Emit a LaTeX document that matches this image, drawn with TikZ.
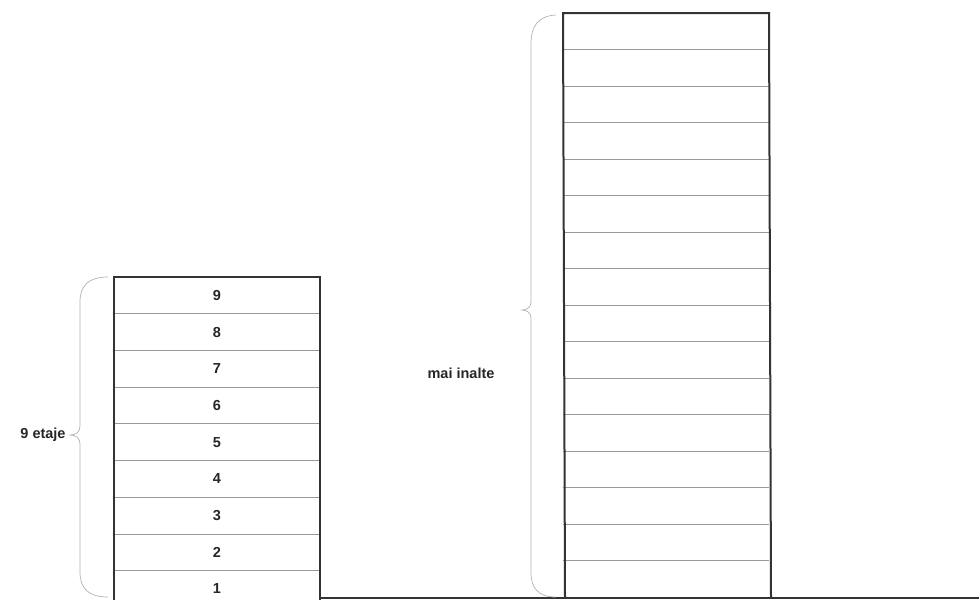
\documentclass[tikz,border=0pt]{standalone}
\usepackage{fontspec}
\setmainfont{Liberation Sans}

\begin{document}
\begin{tikzpicture}[x=1pt, y=-1pt, every node/.style={font=\bfseries\fontsize{14.5}{16}\selectfont, text=black!85},
	wall/.style={black!80, line width=2pt},
	floorline/.style={black!40, line width=0.7pt},
	bracket/.style={black!30, line width=0.7pt}]
	\useasboundingbox (0,0) rectangle (979,600);
	% low block: 9 floors
	\coordinate (lowNW) at (114,277);
	\coordinate (lowNE) at (320,277);
	\foreach \i in {1,...,8}
		\draw[floorline] (114,{277+\i*36.7}) -- (320,{277+\i*36.7});
	\foreach \i in {1,...,9}
		\node (f\i) at (217,{277+(9.5-\i)*36.7}) {\i};
	\draw[wall] (114,600) -- (lowNW) -- (lowNE) -- (320,600);
	% high block: 16 floors
	\coordinate (highNW) at (563,13);
	\coordinate (highNE) at (769,13);
	\foreach \i in {1,...,15}
		\draw[floorline] (563,{13+\i*36.5}) -- (769,{13+\i*36.5});
	\draw[wall] (565,598) -- (highNW) -- (highNE) -- (771,598);
	\coordinate (groundW) at (320,598);
	\coordinate (groundE) at (979,598);
	\draw[wall] (groundW) -- (groundE);
	% braces
	\node (lowlabel) at (43,435) {9 etaje};
	\node (highlabel) at (461,373) {mai inalte};
	\draw[bracket] (108,277) .. controls (88,277) and (80,286) .. (80,302) -- (80,426)
		.. controls (80,432) and (76,435) .. (70,435)
		.. controls (76,435) and (80,438) .. (80,444) -- (80,572)
		.. controls (80,588) and (88,597) .. (108,597);
	\draw[bracket] (556,15) .. controls (538,16) and (531,26) .. (531,44) -- (531,302)
		.. controls (531,307) and (527,310) .. (522,310)
		.. controls (527,310) and (531,313) .. (531,318) -- (531,572)
		.. controls (531,588) and (538,597) .. (556,597);
\end{tikzpicture}
\end{document}
